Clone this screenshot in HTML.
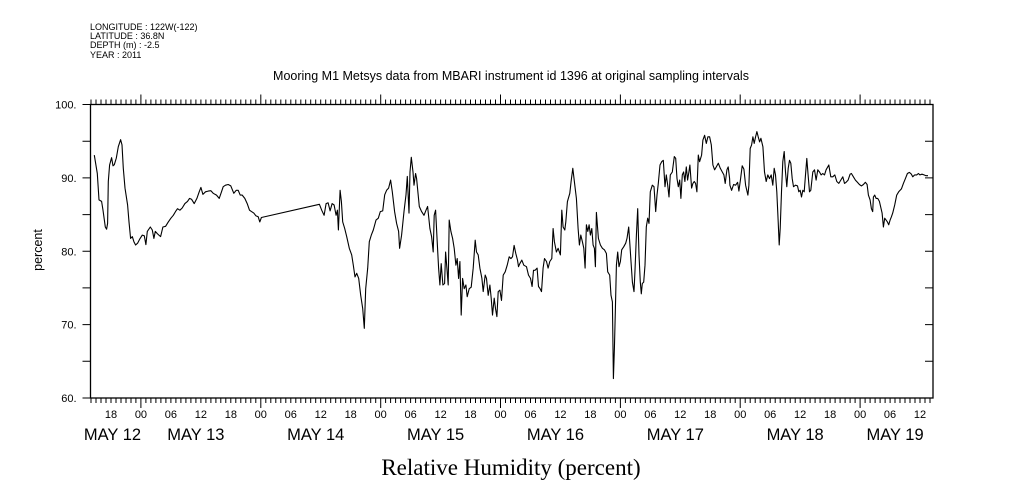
<!DOCTYPE html>
<html><head><meta charset="utf-8">
<style>
html,body{margin:0;padding:0;background:#fff;}
svg{display:block;font-family:"Liberation Sans",sans-serif;}
</style></head>
<body>
<svg id="chart" width="1009" height="504" viewBox="0 0 1009 504" xmlns="http://www.w3.org/2000/svg">
<g font-size="9" fill="#000">
<text x="90" y="30">LONGITUDE : 122W(-122)</text>
<text x="90" y="39">LATITUDE : 36.8N</text>
<text x="90" y="48">DEPTH (m) : -2.5</text>
<text x="90" y="58">YEAR : 2011</text>
</g>
<text x="511" y="80" text-anchor="middle" font-size="12.5">Mooring M1 Metsys data from MBARI instrument id 1396 at original sampling intervals</text>
<text x="511" y="475" text-anchor="middle" font-size="23" font-family="Liberation Serif, serif">Relative Humidity (percent)</text>
<text transform="translate(42,250) rotate(-90)" text-anchor="middle" font-size="12.5">percent</text>
<g id="axes"></g>
<g id="series"></g>
</svg>
<script>
const times = [-9.33,-8.73,-8.4,-7.87,-7.6,-7.33,-7.13,-6.87,-6.67,-6.53,-6.27,-5.87,-5.6,-5.33,-4.93,-4.53,-4.07,-3.8,-3.53,-3.2,-2.67,-2.4,-2.07,-1.73,-1.4,-1.07,-0.67,-0.2,0.27,0.67,1.0,1.27,1.87,2.27,2.6,2.87,3.27,3.6,3.93,4.4,4.93,5.47,6.0,6.47,6.93,7.33,7.8,8.27,8.8,9.33,9.73,10.13,10.67,11.2,11.67,12.0,12.4,12.93,13.47,14.0,14.47,15.13,15.67,16.13,16.47,16.93,17.47,18.0,18.6,19.07,19.47,19.87,20.27,20.8,21.27,21.73,22.13,22.6,23.0,23.47,23.8,24.13,
35.73,36.2,36.67,37.07,37.47,37.87,38.27,38.67,39.07,39.33,39.53,39.87,40.13,40.4,40.8,41.2,41.73,42.2,42.53,42.87,43.2,43.6,44.0,44.4,44.73,45.0,45.4,45.73,46.13,46.53,47.07,47.53,47.93,48.4,48.8,49.2,49.6,50.0,50.33,50.8,51.2,51.6,51.8,52.2,52.67,53.07,53.33,53.67,53.87,54.13,54.47,54.67,55.0,55.2,55.73,56.2,56.67,57.07,57.4,57.87,58.2,58.53,58.73,59.0,59.33,59.6,59.87,60.13,60.47,60.8,61.0,61.27,61.53,61.73,62.07,62.4,62.73,63.07,63.33,63.6,63.87,64.13,64.4,64.73,65.07,65.33,65.73,66.13,66.53,66.93,67.2,67.53,67.87,68.27,68.53,68.93,69.2,69.53,69.87,70.13,70.4,70.73,71.0,71.27,71.53,71.87,72.2,72.53,72.93,73.33,73.73,74.07,74.4,74.73,75.07,75.4,75.6,75.87,
76.27,76.67,77.2,77.6,78.0,78.33,78.6,78.93,79.33,79.6,79.93,80.2,80.53,80.8,81.2,81.53,81.87,82.27,82.53,82.8,83.2,83.53,84.0,84.27,84.53,84.87,85.07,85.4,85.87,86.13,86.47,86.87,87.2,87.53,87.8,88.07,88.4,88.67,88.93,89.2,89.47,89.73,90.0,90.27,90.53,90.8,91.0,91.2,91.6,92.0,92.4,92.8,93.2,93.47,93.87,94.13,94.4,94.53,94.6,94.8,95.0,95.2,95.47,95.73,96.0,96.27,96.67,97.07,97.33,97.67,97.87,98.13,98.4,98.73,98.93,99.2,99.47,99.73,100.0,100.2,100.4,100.67,100.93,101.2,101.47,101.73,102.0,102.4,102.73,103.07,103.33,103.6,103.93,104.27,104.6,104.93,105.2,105.47,105.73,106.0,106.4,106.8,107.07,107.33,107.6,107.87,108.13,108.4,108.67,108.93,109.2,109.47,109.73,109.93,110.27,110.53,110.8,111.07,111.33,111.6,111.87,112.27,112.53,112.87,113.2,113.53,113.87,114.2,114.53,114.87,115.2,115.6,116.0,116.4,116.73,117.0,117.33,117.6,117.87,
117.93,118.27,118.67,119.07,119.47,119.73,120.07,120.4,120.73,121.07,121.53,121.73,122.0,122.27,122.53,122.8,123.07,123.33,123.6,123.87,124.13,124.53,124.87,125.2,125.53,125.87,126.2,126.53,126.8,127.07,127.33,127.6,127.8,128.0,128.27,128.53,128.8,129.07,129.33,129.6,129.87,130.13,130.4,130.67,131.07,131.47,131.73,132.0,132.27,132.53,132.8,133.07,133.33,133.6,133.87,134.13,134.53,134.87,135.2,135.53,135.87,136.2,136.53,136.87,137.2,137.73,138.13,138.53,138.93,139.33,139.73,140.13,140.53,140.87,141.2,141.6,142.0,142.27,142.67,143.07,143.47,143.87,144.27,144.67,145.07,145.4,145.67,146.0,146.27,146.53,146.67,146.93,147.2,147.53,147.87,148.2,148.4,148.67,148.93,149.2,149.47,149.73,150.0,150.27,150.53,150.93,151.33,151.73,152.27,152.67,153.07,153.47,153.87,154.27,154.53,154.93,155.33,155.67,156.0,156.4,156.8,157.2,157.6];
const humidity = [93.1,90.6,87.0,86.8,85.6,84.3,83.3,83.0,83.8,89.5,91.75,92.75,91.65,91.8,92.7,94.25,95.2,94.5,91.3,88.6,86.3,84.0,81.75,82.0,81.3,80.85,81.1,81.7,82.2,82.1,80.9,82.7,83.3,82.9,81.75,82.7,82.4,82.2,82.0,83.3,83.4,84.0,84.5,84.9,85.4,85.8,85.6,85.9,86.5,86.8,87.2,87.1,86.5,87.2,88.1,88.7,87.75,88.1,88.2,88.25,87.9,87.65,87.2,88.1,88.8,89.0,89.1,88.9,87.9,88.3,88.3,87.65,87.65,87.2,86.5,85.6,85.4,85.2,84.85,84.7,84.0,84.6,
86.4,85.6,84.9,86.5,86.6,85.5,86.5,86.3,84.9,85.6,82.9,88.3,86.75,84.0,83.1,82.0,80.4,79.5,78.1,76.5,77.0,76.3,74.0,72.2,69.5,74.9,77.7,81.3,82.2,82.9,84.25,84.5,85.4,85.5,87.7,88.3,88.6,89.7,88.1,85.4,83.8,82.7,80.4,82.2,85.4,87.7,90.2,85.2,90.8,92.8,90.8,89.0,90.6,89.9,86.1,85.4,84.9,85.6,86.1,83.1,82.0,79.9,84.9,85.6,81.3,77.7,75.4,78.3,75.4,75.6,79.9,77.7,75.4,84.25,82.7,81.75,80.4,78.1,79.0,76.3,78.6,71.3,76.3,74.9,75.4,73.8,74.9,75.1,77.7,81.5,79.9,79.5,77.7,76.3,74.5,76.75,76.3,74.0,75.4,73.6,71.3,73.6,72.2,71.1,74.5,74.7,73.3,76.75,77.2,78.1,79.25,79.0,79.25,80.8,79.7,78.8,77.9,78.3,
78.8,78.1,77.9,76.75,76.3,75.2,77.4,77.4,77.7,75.2,74.9,74.5,77.7,79.0,78.6,77.7,78.6,79.0,83.1,81.3,79.9,80.4,79.5,85.6,83.3,82.9,84.0,86.75,87.9,89.5,91.3,89.0,87.2,83.1,80.85,82.2,81.3,80.4,77.7,83.6,82.7,83.6,82.2,83.1,80.85,80.4,77.9,85.3,81.75,80.85,80.4,80.2,79.7,77.2,76.75,74.0,73.1,66.75,62.65,66.75,72.2,78.1,79.9,77.9,78.6,80.2,80.6,81.1,81.75,83.3,81.3,78.6,75.8,74.5,77.4,82.2,85.8,79.5,75.8,74.2,75.6,75.8,78.1,83.3,84.5,83.8,88.1,89.0,88.8,85.4,87.65,89.25,91.75,92.2,92.4,88.8,90.4,89.0,87.4,90.4,90.8,92.9,92.65,89.9,88.8,89.7,87.2,90.4,90.8,89.5,91.5,89.7,90.8,91.75,88.6,89.25,89.5,89.25,88.1,93.1,92.2,93.1,95.15,95.8,94.7,95.6,95.6,94.5,91.75,91.1,91.5,92.0,91.3,90.8,90.4,89.25,91.1,91.5,89.9,
89.0,88.3,89.1,89.0,89.4,88.2,89.9,91.65,91.2,89.0,87.65,89.0,94.0,94.5,95.6,94.7,95.6,96.3,95.6,94.9,95.4,94.25,90.8,89.5,90.4,89.9,90.4,89.0,91.3,90.4,88.1,84.0,80.85,83.1,88.1,92.2,93.6,90.8,88.8,91.3,92.4,92.0,89.9,88.8,89.0,88.9,88.1,88.3,87.4,88.3,88.1,90.4,92.65,90.4,88.1,88.3,90.8,91.1,89.7,91.1,90.8,90.4,90.6,90.4,91.1,91.75,90.15,90.15,90.4,89.5,89.25,89.7,90.15,89.25,89.4,89.7,90.5,90.6,90.15,89.7,89.4,89.1,88.9,89.1,89.4,89.1,87.65,87.0,85.8,85.4,87.4,87.65,87.2,87.2,86.8,85.8,85.2,83.3,84.5,84.25,84.0,83.6,84.25,84.7,85.2,86.3,87.65,88.1,88.5,89.25,89.9,90.6,90.75,90.5,90.15,90.4,90.4,90.6,90.4,90.5,90.4,90.3,90.3];
const yTicks = [60,70,80,90,100];
const yTickLabels = ["60.","70.","80.","90.","100."];
const hourTickHours = [-6,0,6,12,18,24,30,36,42,48,54,60,66,72,78,84,90,96,102,108,114,120,126,132,138,144,150,156];
const hourTickLabels = ["18","00","06","12","18","00","06","12","18","00","06","12","18","00","06","12","18","00","06","12","18","00","06","12","18","00","06","12"];
const dayLabelHours = [-5.7,11,35,59,83,107,131,151];
const dayLabels = ["MAY 12","MAY 13","MAY 14","MAY 15","MAY 16","MAY 17","MAY 18","MAY 19"];

const L=90.5, R=933, T=104.5, B=398;
const hMin=-10.1, hMax=158.6;
const yMin=60, yMax=100;
function xs(h){return L+(h-hMin)/(hMax-hMin)*(R-L);}
function ys(v){return B-(v-yMin)/(yMax-yMin)*(B-T);}
const NS="http://www.w3.org/2000/svg";
const axes=document.getElementById('axes');
const series=document.getElementById('series');
function mk(tag,attrs,parent){const e=document.createElementNS(NS,tag);for(const k in attrs)e.setAttribute(k,attrs[k]);parent.appendChild(e);return e;}

const frame=mk('rect',{x:L,y:T,width:R-L,height:B-T,fill:'none',stroke:'#000','stroke-width':1.3},axes);



// hourly ticks top & bottom
let d='';
for(let h=Math.ceil(hMin);h<=hMax;h++){
  const x=xs(h).toFixed(1);
  const major=(((h%24)+24)%24)===0;
  d+=`M${x},${B}V${B+(major?10:5)}M${x},${T}V${T-(major?10:5)}`;
}
// y ticks every 5
for(let v=yMin;v<=yMax;v+=5){
  const y=ys(v).toFixed(1);
  d+=`M${L},${y}H${L-8}M${R},${y}H${R-8}`;
}
const ticks=mk('path',{d:d,stroke:'#000','stroke-width':1,fill:'none'},axes);



yTicks.forEach((v,i)=>{
  const t=mk('text',{x:L-14,y:ys(v)+4,'text-anchor':'end','font-size':11},axes);
  t.textContent=yTickLabels[i];
  
  
});
hourTickHours.forEach((h,i)=>{
  const t=mk('text',{x:xs(h),y:B+20,'text-anchor':'middle','font-size':11},axes);
  t.textContent=hourTickLabels[i];
  
  
});
dayLabelHours.forEach((h,i)=>{
  const t=mk('text',{x:xs(h),y:B+42,'text-anchor':'middle','font-size':16.5},axes);
  t.textContent=dayLabels[i];
  
  
});

let pd='';
times.forEach((h,i)=>{pd+=(i?'L':'M')+xs(h).toFixed(1)+','+ys(humidity[i]).toFixed(1);});
const line=mk('path',{d:pd,fill:'none',stroke:'#000','stroke-width':1.1,'stroke-linejoin':'round'},series);


</script>
</body></html>
